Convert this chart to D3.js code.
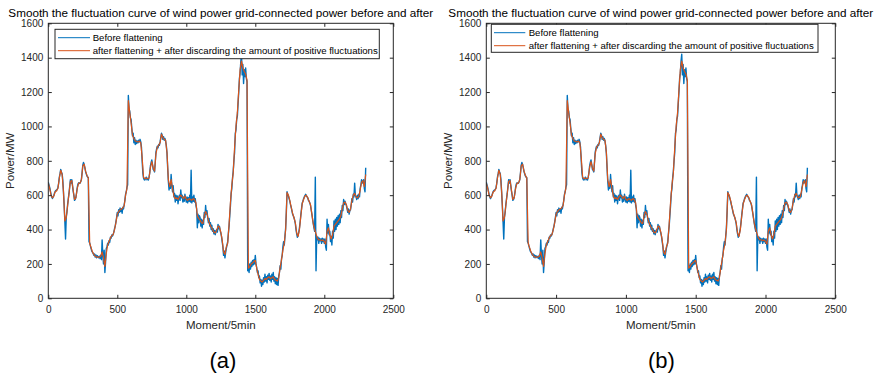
<!DOCTYPE html>
<html>
<head>
<meta charset="utf-8">
<script src="https://cdn.jsdelivr.net/npm/d3@7"></script>
<style>
  html, body { margin: 0; padding: 0; background: #fff; }
  svg { display: block; font-family: "Liberation Sans", Arial, sans-serif; }
</style>
</head>
<body>
<script>
// ---------------- DATA ----------------
const titleText = "Smooth the fluctuation curve of wind power grid-connected power before and after";
const xLabelText = "Moment/5min";
const yLabelText = "Power/MW";
const seriesNames = ["Before flattening", "after flattening + after discarding the amount of positive fluctuations"];
const panelLabels = ["(a)", "(b)"];
const xTicks = [0, 500, 1000, 1500, 2000, 2500];
const yTicks = [0, 200, 400, 600, 800, 1000, 1200, 1400, 1600];
const xDomain = [0, 2500];
const yDomain = [0, 1600];

// Before flattening: one value every 5 moments (0 .. 2300)
const beforeStep = 5;
const beforeValues = [
  675,660,645,625,605,590,580,590,598,612,622,628,630,635,645,670,705,725,750,735,
  725,690,615,540,445,345,470,500,545,580,610,650,690,670,690,660,625,600,570,575,
  588,615,645,665,672,668,670,678,692,730,775,790,778,760,738,725,712,705,702,330,
  322,305,290,275,268,262,250,258,240,252,235,248,242,236,245,232,250,225,340,255,
  200,280,150,210,290,300,320,310,335,325,355,350,368,362,372,385,405,420,445,470,
  500,480,515,500,525,505,520,495,530,520,545,570,605,620,645,660,1180,1100,1090,1050,
  1040,990,945,960,905,935,895,920,900,915,905,920,910,925,910,880,800,730,700,690,
  688,698,705,690,698,688,705,730,770,790,805,780,750,745,735,790,850,870,885,875,
  895,890,910,935,960,950,925,940,920,930,915,890,845,760,680,630,660,640,720,660,
  620,655,590,610,560,600,570,595,550,585,600,570,630,585,600,560,590,565,605,580,
  560,590,555,585,565,600,560,745,555,590,565,600,560,580,540,520,410,490,440,480,
  470,420,460,410,455,430,500,470,540,490,510,470,440,465,420,440,400,425,390,405,
  375,395,370,390,400,385,430,405,420,395,380,360,330,300,250,275,235,265,290,310,
  330,380,420,480,540,610,640,700,740,800,850,960,980,1040,1060,1130,1200,1280,1310,1380,
  1420,1300,1360,1250,1330,1290,1340,1280,1260,160,190,150,200,170,210,185,220,195,225,200,
  250,200,180,150,160,120,130,90,110,70,105,80,120,95,140,100,125,90,135,110,
  145,105,130,95,140,110,150,100,125,85,120,80,115,75,130,150,190,170,230,250,
  300,330,310,360,410,500,620,605,595,580,565,545,530,510,490,480,470,455,435,400,
  375,355,365,385,410,445,485,520,555,565,580,590,598,605,595,590,585,570,565,555,
  540,515,490,460,435,410,390,705,160,360,340,355,320,350,335,345,320,350,330,345,
  320,345,300,280,460,380,430,370,390,330,360,310,390,350,450,390,460,400,470,420,
  480,430,490,440,510,470,540,510,575,545,565,550,540,520,500,520,490,510,515,545,
  580,560,605,590,670,600,590,575,600,580,605,590,640,660,690,670,680,690,640,620,
  760
];

// After flattening + discarding positive fluctuations: one value every 10 moments (0 .. 2300)
const afterStep = 10;
const afterValues = [
  670,640,600,585,595,620,625,640,700,745,
  720,620,450,470,540,610,680,685,630,575,
  585,640,670,670,690,770,780,740,715,700,
  320,295,270,255,245,240,240,240,245,270,
  235,185,260,310,330,350,365,370,400,440,
  490,505,515,520,525,540,600,640,1150,1080,
  1020,950,930,915,912,910,915,905,820,705,
  695,700,695,700,760,795,760,740,840,880,
  890,905,955,935,925,920,850,690,650,690,
  640,595,580,585,575,590,600,590,580,595,
  575,570,580,575,570,580,575,555,480,465,
  455,440,435,480,505,490,455,430,415,400,
  385,380,395,420,415,385,340,270,255,300,
  320,430,560,660,730,880,1000,1080,1210,1330,
  1380,1340,1320,1305,1270,175,185,200,205,215,
  220,175,140,110,100,95,105,115,110,120,
  125,115,120,125,110,105,100,120,180,225,
  280,320,400,615,600,570,530,495,470,440,
  380,360,400,480,550,575,595,600,585,565,
  545,490,435,400,375,350,340,340,335,340,
  330,315,390,410,370,345,370,420,430,440,
  450,460,480,520,555,560,545,510,500,520,
  570,600,610,590,585,595,630,675,685,650,
  720
];

// ---------------- LAYOUT ----------------
const W = 878, H = 377;
const colors = ["#0072BD", "#D95319"];
const axisColor = "#262626";

const panels = [
  { left: 48.3, right: 393.3, top: 23.3, bottom: 298.3,
    legend: { x: 55, y: 29.3, w: 324.3, h: 29.4, row1: 37.7, row2: 50.7, lx1: 58, lx2: 90, tx: 92.7 },
    labelX: 223 },
  { left: 486.3, right: 835.3, top: 23.3, bottom: 298.3,
    legend: { x: 491.3, y: 24.3, w: 326.7, h: 28, row1: 32.7, row2: 45.7, lx1: 494, lx2: 525.3, tx: 528.7 },
    labelX: 661.5 }
];

const svg = d3.select("body").append("svg").attr("width", W).attr("height", H);

const beforeData = beforeValues.map((v, i) => ({ x: i * beforeStep, y: v }));
const afterData = afterValues.map((v, i) => ({ x: i * afterStep, y: v }));

panels.forEach((p, pi) => {
  const x = d3.scaleLinear().domain(xDomain).range([p.left, p.right]);
  const y = d3.scaleLinear().domain(yDomain).range([p.bottom, p.top]);
  const g = svg.append("g");

  const clipId = "clip" + pi;
  svg.append("clipPath").attr("id", clipId).append("rect")
    .attr("x", p.left).attr("y", p.top).attr("width", p.right - p.left).attr("height", p.bottom - p.top);

  const line = d3.line().x(d => x(d.x)).y(d => y(d.y));
  const lines = g.append("g").attr("clip-path", `url(#${clipId})`);
  lines.append("path").datum(beforeData).attr("d", line)
    .attr("fill", "none").attr("stroke", colors[0]).attr("stroke-width", 1.4).attr("stroke-linejoin", "round");
  lines.append("path").datum(afterData).attr("d", line)
    .attr("fill", "none").attr("stroke", colors[1]).attr("stroke-width", 1.2).attr("stroke-linejoin", "round");

  const tl = 3.5;
  const styleAxis = (sel, showText) => {
    sel.select(".domain").remove();
    sel.selectAll(".tick line").attr("stroke", axisColor);
    sel.selectAll(".tick text").attr("fill", axisColor).style("font-size", "10px")
      .style("font-family", '"Liberation Sans", Arial, sans-serif');
    if (!showText) sel.selectAll(".tick text").remove();
  };

  g.append("g").attr("transform", `translate(0,${p.bottom})`)
    .call(d3.axisBottom(x).tickValues(xTicks).tickSize(-tl).tickPadding(8).tickFormat(d3.format("d")))
    .call(s => styleAxis(s, true));
  g.append("g").attr("transform", `translate(0,${p.top})`)
    .call(d3.axisTop(x).tickValues(xTicks).tickSize(-tl))
    .call(s => styleAxis(s, false));
  g.append("g").attr("transform", `translate(${p.left},0)`)
    .call(d3.axisLeft(y).tickValues(yTicks).tickSize(-tl).tickPadding(5).tickFormat(d3.format("d")))
    .call(s => styleAxis(s, true));
  g.append("g").attr("transform", `translate(${p.right},0)`)
    .call(d3.axisRight(y).tickValues(yTicks).tickSize(-tl))
    .call(s => styleAxis(s, false));

  // box
  g.append("rect").attr("x", p.left).attr("y", p.top)
    .attr("width", p.right - p.left).attr("height", p.bottom - p.top)
    .attr("fill", "none").attr("stroke", axisColor).attr("stroke-width", 1);

  // title
  const cx = (p.left + p.right) / 2;
  g.append("text").attr("x", cx).attr("y", 16.5).attr("text-anchor", "middle")
    .attr("fill", "#000").style("font-size", "11.7px").text(titleText);

  // axis labels
  g.append("text").attr("x", cx).attr("y", 329).attr("text-anchor", "middle")
    .attr("fill", axisColor).style("font-size", "11.5px").text(xLabelText);
  g.append("text").attr("transform", `translate(${p.left - 34},${(p.top + p.bottom) / 2}) rotate(-90)`)
    .attr("text-anchor", "middle").attr("fill", axisColor).style("font-size", "11.5px").text(yLabelText);

  // legend
  const L = p.legend;
  const lg = g.append("g");
  lg.append("rect").attr("x", L.x).attr("y", L.y).attr("width", L.w).attr("height", L.h)
    .attr("fill", "#fff").attr("stroke", axisColor).attr("stroke-width", 1);
  [L.row1, L.row2].forEach((ry, k) => {
    lg.append("line").attr("x1", L.lx1).attr("x2", L.lx2).attr("y1", ry).attr("y2", ry)
      .attr("stroke", colors[k]).attr("stroke-width", 1);
    lg.append("text").attr("x", L.tx).attr("y", ry).attr("dy", "0.35em")
      .attr("fill", "#000").style("font-size", "9.6px").text(seriesNames[k]);
  });

  // panel label
  svg.append("text").attr("x", p.labelX).attr("y", 367.8).attr("text-anchor", "middle")
    .attr("fill", "#000").style("font-size", "22px").text(panelLabels[pi]);
});
</script>
</body>
</html>
